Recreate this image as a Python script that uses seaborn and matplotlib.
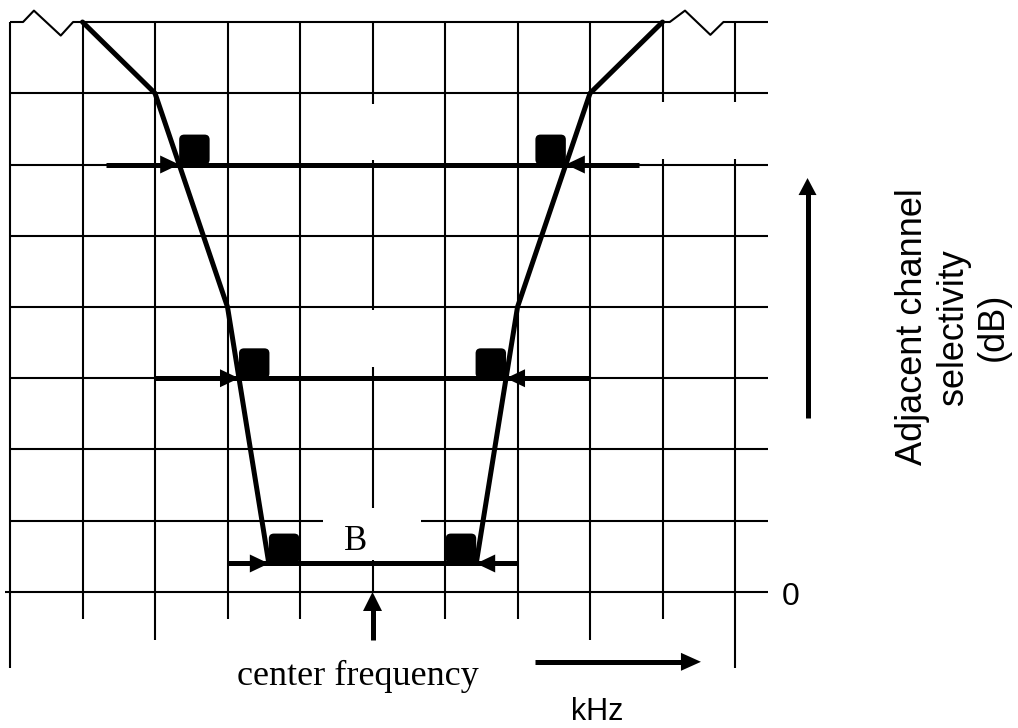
import numpy as np
import pandas as pd
import matplotlib.pyplot as plt
import seaborn as sns
from matplotlib.patches import FancyBboxPatch

# selectivity mask, right half (left half is mirrored), grid units
mask_x = [1.43, 2, 3, 4]
mask_y = [0.4, 4, 7, 8]

# measurement levels and how far the arrow lines reach
levels = [6, 3, 0.4]
level_half_span = [3.67, 3.0, 2.0]

grid_cols = list(range(-5, 6))
grid_rows = list(range(0, 9))

PX = 72.5    # pixels per grid unit, x
PY = 71.25   # pixels per grid unit, y
GRID_LW = 1.5
THICK_LW = 3.6


def head(ax, tip, direction, length=19, width=18):
    # filled triangular arrow head, size in pixels
    x, y = tip
    if direction in ("right", "left"):
        s = 1 if direction == "right" else -1
        lx = length / PX * s
        hw = width / 2 / PY
        ax.fill([x, x - lx, x - lx], [y, y + hw, y - hw], color="black", lw=0, zorder=5)
    else:
        s = 1 if direction == "up" else -1
        ly = length / PY * s
        hw = width / 2 / PX
        ax.fill([x, x - hw, x + hw], [y, y - ly, y - ly], color="black", lw=0, zorder=5)


sns.set_theme(style="white")
plt.rcParams["font.family"] = ["Liberation Sans", "DejaVu Sans"]
plt.rcParams["text.color"] = "black"

fig = plt.figure(figsize=(10.18, 7.28), dpi=100)
ax = fig.add_axes([0, 0, 1, 1])
ax.set_xlim(-5.138, 8.903)
ax.set_ylim(-1.909, 8.309)
ax.axis("off")

# vertical grid lines
for c in grid_cols:
    if abs(c) == 5:
        bottom = -1.07
    elif abs(c) == 3:
        bottom = -0.67
    else:
        bottom = -0.38
    if c == 0:
        segs = [(6.85, 8), (3.96, 6.06), (1.18, 3.16), (0, 0.45)]
    elif c in (4, 5):
        segs = [(6.88, 8), (bottom, 6.08)]
    else:
        segs = [(bottom, 8)]
    for y0, y1 in segs:
        ax.plot([c, c], [y0, y1], color="black", lw=GRID_LW, solid_capstyle="butt")

# horizontal grid lines
for r in grid_rows:
    if r == 8:
        segs = [(-5, -4.82), (-4.13, 4.10), (4.84, 5.45)]
    elif r == 0:
        segs = [(-5.07, 5.45)]
    elif r == 1:
        segs = [(-5, -0.68), (0.67, 5.45)]
    else:
        segs = [(-5, 5.45)]
    for x0, x1 in segs:
        ax.plot([x0, x1], [r, r], color="black", lw=GRID_LW, solid_capstyle="butt")

# break marks on the top line
ax.plot([-4.82, -4.67, -4.30, -4.13], [8, 8.16, 7.81, 8], color="black", lw=GRID_LW)
ax.plot([4.10, 4.31, 4.66, 4.84], [8, 8.16, 7.82, 8], color="black", lw=GRID_LW)

# mask
mask = pd.DataFrame({
    "x": [-v for v in mask_x] + mask_x,
    "y": mask_y + mask_y,
    "side": ["left"] * len(mask_x) + ["right"] * len(mask_x),
})
sns.lineplot(data=mask, x="x", y="y", units="side", estimator=None, sort=False,
             color="black", linewidth=THICK_LW, legend=False, ax=ax)

# level arrows and markers
for lev, span in zip(levels, level_half_span):
    xi = np.interp(lev, mask_y, mask_x)
    ax.plot([-span, span], [lev, lev], color="black", lw=THICK_LW, solid_capstyle="butt", zorder=4)
    head(ax, (-xi, lev), "right")
    head(ax, (xi, lev), "left")
    for x0 in (-xi, xi - 0.42):
        ax.add_patch(FancyBboxPatch((x0, lev), 0.42, 0.42,
                                    boxstyle="round,pad=0,rounding_size=0.07",
                                    fc="black", ec="none", zorder=5))

# center frequency arrow
ax.plot([0, 0], [-0.67, -0.15], color="black", lw=THICK_LW, solid_capstyle="butt")
head(ax, (0, 0), "up", length=19, width=19)

# kHz arrow
ax.plot([2.24, 4.3], [-0.98, -0.98], color="black", lw=THICK_LW, solid_capstyle="butt")
head(ax, (4.53, -0.98), "right", length=20, width=18)

# dB arrow
ax.plot([6.0, 6.0], [2.44, 5.6], color="black", lw=THICK_LW, solid_capstyle="butt")
head(ax, (6.0, 5.81), "up", length=17, width=18)

serif = ["Liberation Serif", "DejaVu Serif"]
ax.text(-0.228, 0.589, "B", family=serif, fontsize=25, ha="center", va="baseline")
ax.text(-0.2, -1.305, "center frequency", family=serif, fontsize=26, ha="center", va="baseline")
ax.text(3.097, -1.8, "kHz", fontsize=22, ha="center", va="baseline")
ax.text(5.76, -0.18, "0", fontsize=23, ha="center", va="baseline")
ax.text(8.007, 3.72, "Adjacent channel\nselectivity\n(dB)", fontsize=26,
        rotation=90, ha="center", va="center", multialignment="center")

fig.savefig("out.png", dpi=100, facecolor="white")
plt.close(fig)
